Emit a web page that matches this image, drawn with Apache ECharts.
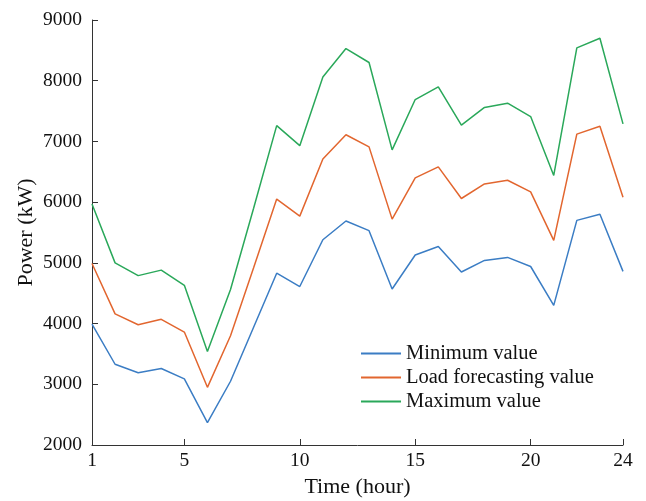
<!DOCTYPE html>
<html>
<head>
<meta charset="utf-8">
<script src="https://cdn.jsdelivr.net/npm/echarts@6/dist/echarts.min.js"></script>
<style>
  html, body { margin: 0; padding: 0; background: #fff; }
  #chart { width: 646px; height: 501px; }
</style>
</head>
<body>
<div id="chart"></div>
<script>
// hours 1..24
const hours = Array.from({ length: 24 }, (_, i) => String(i + 1));
const shownTicks = ['1', '5', '10', '15', '20', '24'];

const minValue = [3990, 3330, 3190, 3260, 3090, 2370, 3050, 3940, 4830, 4610, 5380, 5690,
                  5530, 4570, 5130, 5270, 4850, 5040, 5090, 4940, 4300, 5700, 5800, 4860];
const forecastValue = [4990, 4160, 3980, 4070, 3860, 2950, 3800, 4920, 6050, 5770, 6710, 7110,
                       6910, 5720, 6400, 6580, 6060, 6300, 6360, 6170, 5370, 7120, 7250, 6080];
const maxValue = [5970, 5000, 4790, 4880, 4630, 3540, 4560, 5900, 7260, 6930, 8060, 8530,
                  8300, 6860, 7690, 7900, 7270, 7560, 7630, 7410, 6440, 8540, 8700, 7290];

const font = 'Liberation Serif, Times New Roman, serif';
const chart = echarts.init(document.getElementById('chart'));

const line = (name, data, color) => ({
  name, type: 'line', data,
  symbol: 'none',
  lineStyle: { width: 1.5, color },
  itemStyle: { color },
  animation: false
});

chart.setOption({
  backgroundColor: '#fff',
  grid: { left: 92, right: 23, top: 20, bottom: 56, outerBoundsMode: 'none' },
  legend: {
    left: 356, top: 338, orient: 'vertical',
    icon: 'rect', itemWidth: 40, itemHeight: 2, itemGap: 3,
    textStyle: { fontFamily: font, fontSize: 20.5, color: '#111', lineHeight: 20 },
    data: ['Minimum value', 'Load forecasting value', 'Maximum value']
  },
  xAxis: {
    type: 'category', data: hours, boundaryGap: false,
    name: 'Time (hour)', nameLocation: 'middle', nameGap: 31, nameMoveOverlap: false,
    nameTextStyle: { fontFamily: font, fontSize: 22, color: '#111' },
    axisLine: { lineStyle: { color: '#333', width: 1 } },
    axisTick: { inside: true, length: 6, lineStyle: { color: '#333' },
      interval: (i, v) => shownTicks.includes(v) },
    axisLabel: { fontFamily: font, fontSize: 19.5, color: '#111', margin: 6,
      interval: (i, v) => shownTicks.includes(v) },
    splitLine: { show: false }
  },
  yAxis: {
    type: 'value', min: 2000, max: 9000, interval: 1000,
    name: 'Power (kW)', nameLocation: 'middle', nameGap: 55, nameMoveOverlap: false,
    nameTextStyle: { fontFamily: font, fontSize: 22, color: '#111' },
    axisLine: { show: true, lineStyle: { color: '#333', width: 1 } },
    axisTick: { show: true, inside: true, length: 6, lineStyle: { color: '#333' } },
    axisLabel: { fontFamily: font, fontSize: 19.5, color: '#111', margin: 10,
      formatter: v => String(v) },
    splitLine: { show: false }
  },
  series: [
    line('Minimum value', minValue, '#3b7dc4'),
    line('Load forecasting value', forecastValue, '#e2662f'),
    line('Maximum value', maxValue, '#2aa85a')
  ]
});
</script>
</body>
</html>
